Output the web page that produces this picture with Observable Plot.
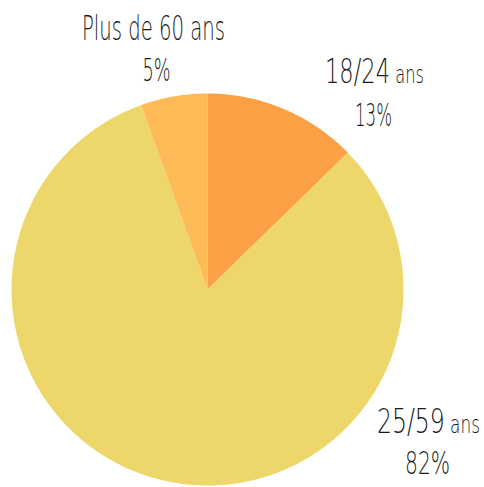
<!DOCTYPE html>
<html>
<head>
<meta charset="utf-8">
<script src="https://cdn.jsdelivr.net/npm/d3@7"></script>
<script src="https://cdn.jsdelivr.net/npm/@observablehq/plot@0.6"></script>
<style>
  html, body { margin: 0; padding: 0; background: #fff; }
  #chart svg { display: block; }
  #chart svg text { font-stretch: condensed; font-weight: 200; }
</style>
</head>
<body>
<div id="chart"></div>
<script>
// ---- data ----
const categories = ["18/24 ans", "25/59 ans", "Plus de 60 ans"];
const ageRanges = ["18/24", "25/59", "Plus de 60 ans"];
const values = [12.7, 81.8, 5.5];
const percentLabels = ["13%", "82%", "5%"];
const colors = ["#FBA044", "#EDD76B", "#FDBA56"];

// ---- layout ----
const W = 484, H = 487, CX = 207, CY = 289, R = 196;
const toUX = px => (px - CX) / R;
const toUY = py => (CY - py) / R;
const FS_NAME = 34, FS_PCT = 32;
// label anchor positions in pixels (center x, baseline y) and target widths
const nameAnchors = [[374, 82], [428, 432], [153, 39]];
const nameWidths = [99, 103, 143];
const pctAnchors = [[373, 125], [427, 473], [156, 80]];
const pctWidths = [37, 45, 28];

const pie = d3.pie().sort(null)(values);
const slices = [];
pie.forEach((p, i) => {
  const n = Math.max(8, Math.ceil((p.endAngle - p.startAngle) / 0.01));
  slices.push({cat: categories[i], x: 0, y: 0});
  for (let k = 0; k <= n; k++) {
    const a = p.startAngle + (p.endAngle - p.startAngle) * k / n;
    slices.push({cat: categories[i], x: Math.sin(a), y: Math.cos(a)});
  }
});

const nameRows = categories.map((c, i) => ({
  cat: c, label: ageRanges[i],
  x: toUX(nameAnchors[i][0]), y: toUY(nameAnchors[i][1] - 0.32 * FS_NAME)
}));
const pctRows = categories.map((c, i) => ({
  cat: c, label: percentLabels[i],
  x: toUX(pctAnchors[i][0]), y: toUY(pctAnchors[i][1] - 0.32 * FS_PCT)
}));

const chart = Plot.plot({
  width: W, height: H, margin: 0,
  x: {domain: [-1, 1], range: [CX - R, CX + R], axis: null},
  y: {domain: [-1, 1], range: [CY + R, CY - R], axis: null},
  color: {domain: categories, range: colors},
  style: {fontFamily: "'DejaVu Sans', sans-serif", background: "#fff"},
  marks: [
    Plot.line(slices, {x: "x", y: "y", z: "cat", fill: "cat", stroke: null, curve: "linear-closed"}),
    Plot.text(nameRows, {x: "x", y: "y", text: "label", fontSize: FS_NAME, fill: "#1a1a1a", textAnchor: "middle", lineAnchor: "middle", className: "names"}),
    Plot.text(pctRows, {x: "x", y: "y", text: "label", fontSize: FS_PCT, fill: "#1a1a1a", textAnchor: "middle", lineAnchor: "middle", className: "pcts"})
  ]
});

d3.select(chart).selectAll(".names text").each(function(_, i) {
  const t = d3.select(this);
  const txt = t.text();
  if (txt === "18/24" || txt === "25/59") {
    t.append("tspan").attr("font-size", FS_NAME * 0.72).text(" ans");
  }
  t.attr("textLength", nameWidths[i]).attr("lengthAdjust", "spacingAndGlyphs");
});
d3.select(chart).selectAll(".pcts text").each(function(_, i) {
  d3.select(this).attr("textLength", pctWidths[i]).attr("lengthAdjust", "spacingAndGlyphs");
});

document.getElementById("chart").appendChild(chart);
</script>
</body>
</html>
